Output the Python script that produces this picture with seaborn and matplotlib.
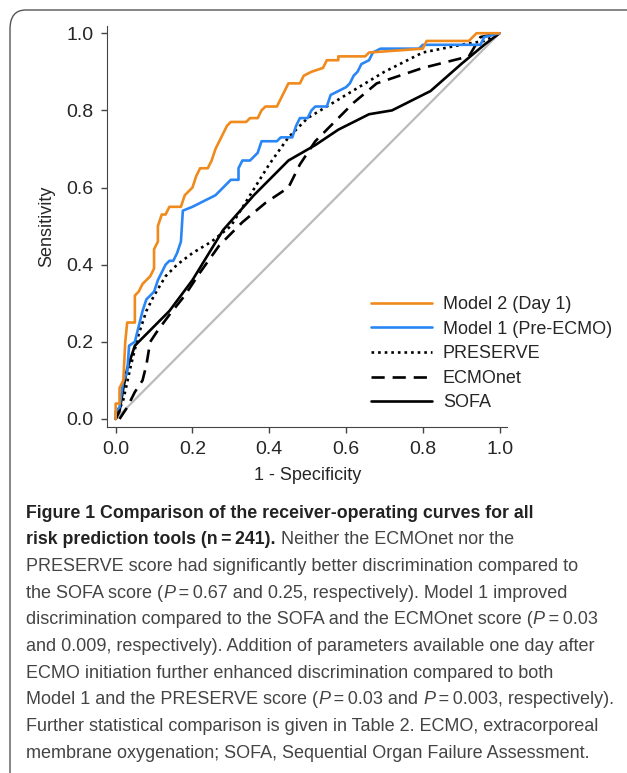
import numpy as np
import pandas as pd
import matplotlib
matplotlib.use('Agg')
import matplotlib.pyplot as plt
import seaborn as sns
from matplotlib.patches import FancyBboxPatch

model2_x = [0, 0, 0.01, 0.01, 0.02, 0.025, 0.03, 0.05, 0.05, 0.06, 0.07, 0.08, 0.09, 0.1, 0.1, 0.11, 0.11, 0.12, 0.13, 0.14, 0.17, 0.18, 0.2, 0.21, 0.22, 0.24, 0.25, 0.26, 0.27, 0.28, 0.29, 0.3, 0.34, 0.35, 0.37, 0.38, 0.39, 0.42, 0.43, 0.44, 0.45, 0.48, 0.49, 0.51, 0.54, 0.55, 0.58, 0.58, 0.65, 0.66, 0.8, 0.81, 0.92, 0.94, 1]
model2_y = [0, 0.04, 0.04, 0.08, 0.1, 0.2, 0.25, 0.25, 0.32, 0.33, 0.35, 0.36, 0.37, 0.39, 0.44, 0.46, 0.5, 0.53, 0.53, 0.55, 0.55, 0.58, 0.6, 0.63, 0.65, 0.65, 0.67, 0.7, 0.72, 0.74, 0.76, 0.77, 0.77, 0.78, 0.78, 0.8, 0.81, 0.81, 0.83, 0.85, 0.87, 0.87, 0.89, 0.9, 0.91, 0.93, 0.93, 0.94, 0.94, 0.95, 0.96, 0.98, 0.98, 1, 1]
model1_x = [0, 0, 0.01, 0.02, 0.03, 0.035, 0.05, 0.06, 0.07, 0.08, 0.09, 0.1, 0.11, 0.12, 0.13, 0.14, 0.15, 0.16, 0.17, 0.175, 0.2, 0.22, 0.24, 0.26, 0.28, 0.3, 0.32, 0.32, 0.33, 0.35, 0.36, 0.37, 0.38, 0.42, 0.43, 0.46, 0.47, 0.48, 0.5, 0.51, 0.52, 0.55, 0.56, 0.58, 0.6, 0.61, 0.62, 0.63, 0.64, 0.66, 0.67, 0.69, 0.79, 0.8, 0.95, 0.96, 1]
model1_y = [0, 0.02, 0.03, 0.1, 0.12, 0.19, 0.2, 0.24, 0.28, 0.31, 0.32, 0.33, 0.36, 0.38, 0.4, 0.41, 0.41, 0.43, 0.46, 0.54, 0.55, 0.56, 0.57, 0.58, 0.6, 0.62, 0.62, 0.65, 0.67, 0.67, 0.68, 0.69, 0.72, 0.72, 0.73, 0.73, 0.76, 0.78, 0.78, 0.8, 0.81, 0.81, 0.84, 0.85, 0.86, 0.87, 0.89, 0.9, 0.92, 0.93, 0.95, 0.96, 0.96, 0.97, 0.97, 0.99, 1]
preserve_x = [0, 0.02, 0.04, 0.06, 0.08, 0.1, 0.13, 0.16, 0.2, 0.25, 0.3, 0.35, 0.4, 0.45, 0.5, 0.55, 0.6, 0.65, 0.7, 0.8, 0.9, 0.96, 1]
preserve_y = [0, 0.05, 0.14, 0.22, 0.28, 0.32, 0.37, 0.4, 0.43, 0.46, 0.5, 0.58, 0.66, 0.73, 0.78, 0.81, 0.84, 0.87, 0.9, 0.95, 0.97, 0.98, 1]
ecmonet_x = [0.01, 0.03, 0.05, 0.07, 0.08, 0.09, 0.11, 0.14, 0.18, 0.22, 0.27, 0.33, 0.39, 0.45, 0.48, 0.52, 0.56, 0.62, 0.68, 0.8, 0.92, 0.95, 1]
ecmonet_y = [0, 0.03, 0.07, 0.1, 0.14, 0.2, 0.23, 0.27, 0.32, 0.38, 0.45, 0.51, 0.56, 0.6, 0.66, 0.72, 0.76, 0.82, 0.87, 0.91, 0.94, 0.99, 1]
sofa_x = [0, 0.01, 0.02, 0.03, 0.05, 0.08, 0.14, 0.2, 0.28, 0.36, 0.45, 0.52, 0.58, 0.66, 0.72, 0.82, 0.9, 0.96, 1]
sofa_y = [0, 0.02, 0.08, 0.13, 0.19, 0.22, 0.28, 0.36, 0.49, 0.58, 0.67, 0.71, 0.75, 0.79, 0.8, 0.85, 0.92, 0.97, 1]

sns.set_style('ticks')
plt.rcParams['font.family'] = ['Liberation Sans', 'DejaVu Sans']

fig = plt.figure(figsize=(6.27, 7.73), dpi=100)
fig.patches.append(FancyBboxPatch((10 / 627, -0.05), 1.2, (773 - 10) / 773 + 0.05,
                                  boxstyle='round,pad=0,rounding_size=0.025',
                                  transform=fig.transFigure, fill=False,
                                  edgecolor='#555555', linewidth=1.0))
ax = fig.add_axes([0.171, 0.448, 0.638, 0.519])

ax.plot([0, 1], [0, 1], color='#bbbbbb', lw=1.6, zorder=1)
series = [
    ('SOFA', sofa_x, sofa_y, 'black', '-'),
    ('ECMOnet', ecmonet_x, ecmonet_y, 'black', (0, (5, 3))),
    ('PRESERVE', preserve_x, preserve_y, 'black', (0, (1, 1.5))),
    ('Model 1 (Pre-ECMO)', model1_x, model1_y, '#2a86f5', '-'),
    ('Model 2 (Day 1)', model2_x, model2_y, '#f08a1c', '-'),
]
for name, xs, ys, c, ls in series:
    df = pd.DataFrame({'x': xs, 'y': ys})
    sns.lineplot(data=df, x='x', y='y', sort=False, estimator=None, color=c,
                 linestyle=ls, lw=1.9, ax=ax, label=name)

ax.set_xlim(-0.022, 1.02)
ax.set_ylim(-0.02, 1.02)
ax.set_xticks(np.arange(0, 1.01, 0.2))
ax.set_yticks(np.arange(0, 1.01, 0.2))
ax.tick_params(labelsize=14, length=4, width=1, color='#444444', pad=6)
for s in ['top', 'right']:
    ax.spines[s].set_visible(False)
for s in ['left', 'bottom']:
    ax.spines[s].set_color('#444444')
ax.set_xlabel('1 - Specificity', fontsize=13, labelpad=7)
ax.set_ylabel('Sensitivity', fontsize=13, labelpad=8)

h, l = ax.get_legend_handles_labels()
ax.legend(h[::-1], l[::-1], loc='lower right', bbox_to_anchor=(1.28, 0.02),
          frameon=False, fontsize=13, handlelength=3.4, handletextpad=0.6,
          labelspacing=0.42, borderaxespad=0)

cap = [
    [("Figure 1 Comparison of the receiver-operating curves for all", 'bold', 'normal')],
    [("risk prediction tools (n\u2009=\u2009241).", 'bold', 'normal'), (" Neither the ECMOnet nor the", 'normal', 'normal')],
    [("PRESERVE score had significantly better discrimination compared to", 'normal', 'normal')],
    [("the SOFA score (", 'normal', 'normal'), ("P", 'normal', 'italic'), ("\u2009=\u20090.67 and 0.25, respectively). Model 1 improved", 'normal', 'normal')],
    [("discrimination compared to the SOFA and the ECMOnet score (", 'normal', 'normal'), ("P", 'normal', 'italic'), ("\u2009=\u20090.03", 'normal', 'normal')],
    [("and 0.009, respectively). Addition of parameters available one day after", 'normal', 'normal')],
    [("ECMO initiation further enhanced discrimination compared to both", 'normal', 'normal')],
    [("Model 1 and the PRESERVE score (", 'normal', 'normal'), ("P", 'normal', 'italic'), ("\u2009=\u20090.03 and ", 'normal', 'normal'), ("P", 'normal', 'italic'), ("\u2009=\u20090.003, respectively).", 'normal', 'normal')],
    [("Further statistical comparison is given in Table 2. ECMO, extracorporeal", 'normal', 'normal')],
    [("membrane oxygenation; SOFA, Sequential Organ Failure Assessment.", 'normal', 'normal')],
]
fig.canvas.draw()
r = fig.canvas.get_renderer()
for i, line in enumerate(cap):
    x = 26
    y = 773 - (513 + 26.7 * i)
    for txt, wt, st in line:
        col = '#222222' if wt == 'bold' else '#444444'
        t = fig.text(x / 627, y / 773, txt, fontsize=12.8 if wt == 'bold' else 13,
                     fontweight=wt, fontstyle=st, va='center', ha='left', color=col)
        bb = t.get_window_extent(renderer=r)
        x = bb.x1

fig.savefig('out.png', dpi=100)
